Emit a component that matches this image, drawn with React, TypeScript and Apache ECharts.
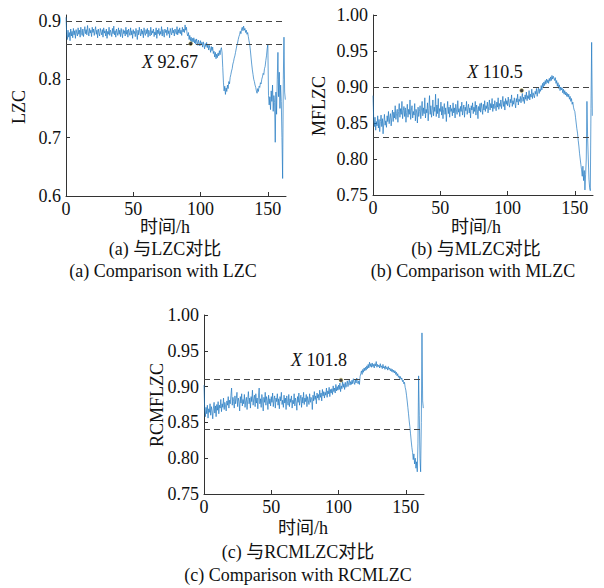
import React, { useEffect, useRef } from "react";
import * as echarts from "echarts";

// Time grid: one sample every half hour, starting at 0 h
const HOUR_STEP = 0.5;

// (a) LZC
const lzc = [
  0.906, 0.878, 0.868, 0.884, 0.872, 0.880, 0.866, 0.886, 0.874, 0.882,
  0.871, 0.887, 0.876, 0.883, 0.870, 0.885, 0.879, 0.874, 0.888, 0.877,
  0.884, 0.872, 0.889, 0.880, 0.875, 0.886, 0.873, 0.882, 0.890, 0.878,
  0.885, 0.876, 0.892, 0.881, 0.874, 0.887, 0.879, 0.884, 0.873, 0.889,
  0.880, 0.886, 0.875, 0.883, 0.890, 0.877, 0.884, 0.871, 0.886, 0.879,
  0.874, 0.887, 0.881, 0.876, 0.885, 0.872, 0.888, 0.879, 0.883, 0.874,
  0.886, 0.870, 0.882, 0.877, 0.889, 0.875, 0.884, 0.880, 0.873, 0.887,
  0.878, 0.891, 0.876, 0.883, 0.872, 0.886, 0.880, 0.875, 0.888, 0.877,
  0.884, 0.873, 0.887, 0.879, 0.871, 0.885, 0.878, 0.883, 0.874, 0.889,
  0.877, 0.884, 0.872, 0.886, 0.880, 0.875, 0.888, 0.876, 0.883, 0.870,
  0.885, 0.878, 0.882, 0.873, 0.887, 0.879, 0.868, 0.884, 0.876, 0.889,
  0.880, 0.874, 0.886, 0.877, 0.883, 0.871, 0.888, 0.879, 0.875, 0.885,
  0.878, 0.887, 0.872, 0.884, 0.880, 0.874, 0.889, 0.876, 0.883, 0.879,
  0.886, 0.873, 0.881, 0.876, 0.888, 0.870, 0.884, 0.878, 0.887, 0.875,
  0.882, 0.877, 0.890, 0.874, 0.885, 0.879, 0.872, 0.886, 0.880, 0.884,
  0.875, 0.889, 0.878, 0.883, 0.871, 0.887, 0.880, 0.876, 0.888, 0.879,
  0.884, 0.874, 0.886, 0.881, 0.877, 0.890, 0.876, 0.885, 0.879, 0.888,
  0.878, 0.884, 0.875, 0.889, 0.881, 0.886, 0.880, 0.893, 0.884, 0.889,
  0.878, 0.874, 0.880, 0.868, 0.875, 0.866, 0.872, 0.863, 0.870, 0.864,
  0.871, 0.862, 0.868, 0.860, 0.869, 0.864, 0.858, 0.867, 0.862, 0.857,
  0.866, 0.859, 0.863, 0.855, 0.864, 0.858, 0.852, 0.861, 0.856, 0.863,
  0.854, 0.860, 0.850, 0.858, 0.853, 0.846, 0.856, 0.849, 0.855, 0.844,
  0.848, 0.838, 0.846, 0.835, 0.843, 0.837, 0.845, 0.840, 0.849, 0.842,
  0.851, 0.854, 0.845, 0.820, 0.795, 0.780, 0.788, 0.774, 0.785, 0.779,
  0.790, 0.784, 0.796, 0.792, 0.803, 0.808, 0.814, 0.818, 0.826, 0.830,
  0.836, 0.840, 0.846, 0.852, 0.858, 0.862, 0.868, 0.873, 0.876, 0.882,
  0.878, 0.886, 0.889, 0.883, 0.891, 0.884, 0.887, 0.880, 0.884, 0.877,
  0.880, 0.873, 0.866, 0.860, 0.850, 0.838, 0.826, 0.816, 0.808, 0.800,
  0.796, 0.790, 0.786, 0.780, 0.776, 0.784, 0.779, 0.788, 0.786, 0.794,
  0.792, 0.800, 0.804, 0.810, 0.808, 0.818, 0.822, 0.832, 0.840, 0.852,
  0.860, 0.772, 0.756, 0.770, 0.748, 0.780, 0.762, 0.790, 0.745, 0.772,
  0.760, 0.692, 0.778, 0.740, 0.800, 0.846, 0.770, 0.812, 0.750, 0.790,
  0.762, 0.700, 0.630, 0.800, 0.872, 0.778, 0.765,
];

// (b) MFLZC
const mflzc = [
  0.888, 0.856, 0.845, 0.858, 0.840, 0.852, 0.846, 0.860, 0.843, 0.855,
  0.838, 0.852, 0.861, 0.845, 0.856, 0.835, 0.850, 0.862, 0.847, 0.853,
  0.844, 0.860, 0.852, 0.866, 0.849, 0.857, 0.863, 0.846, 0.858, 0.868,
  0.852, 0.865, 0.857, 0.874, 0.855, 0.863, 0.869, 0.851, 0.866, 0.877,
  0.858, 0.870, 0.862, 0.880, 0.856, 0.867, 0.873, 0.859, 0.871, 0.851,
  0.865, 0.876, 0.858, 0.869, 0.862, 0.882, 0.855, 0.868, 0.874, 0.857,
  0.866, 0.861, 0.877, 0.853, 0.869, 0.864, 0.850, 0.872, 0.859, 0.866,
  0.874, 0.856, 0.868, 0.880, 0.860, 0.871, 0.863, 0.885, 0.857, 0.869,
  0.864, 0.878, 0.853, 0.870, 0.888, 0.862, 0.874, 0.858, 0.867, 0.882,
  0.860, 0.872, 0.866, 0.890, 0.859, 0.875, 0.863, 0.884, 0.857, 0.870,
  0.866, 0.879, 0.861, 0.873, 0.856, 0.869, 0.877, 0.862, 0.871, 0.852,
  0.868, 0.880, 0.863, 0.872, 0.858, 0.875, 0.866, 0.870, 0.860, 0.878,
  0.864, 0.871, 0.857, 0.876, 0.868, 0.862, 0.881, 0.865, 0.870, 0.859,
  0.873, 0.866, 0.879, 0.861, 0.869, 0.875, 0.858, 0.872, 0.867, 0.880,
  0.862, 0.870, 0.876, 0.864, 0.871, 0.857, 0.874, 0.868, 0.878, 0.863,
  0.872, 0.866, 0.880, 0.861, 0.875, 0.869, 0.856, 0.873, 0.867, 0.877,
  0.865, 0.878, 0.870, 0.862, 0.876, 0.868, 0.881, 0.866, 0.874, 0.870,
  0.879, 0.864, 0.873, 0.882, 0.868, 0.877, 0.871, 0.884, 0.866, 0.876,
  0.870, 0.881, 0.874, 0.867, 0.879, 0.872, 0.885, 0.869, 0.877, 0.873,
  0.882, 0.870, 0.878, 0.887, 0.873, 0.880, 0.868, 0.884, 0.876, 0.881,
  0.874, 0.886, 0.877, 0.872, 0.883, 0.878, 0.889, 0.873, 0.881, 0.876,
  0.885, 0.878, 0.871, 0.884, 0.879, 0.890, 0.875, 0.883, 0.880, 0.887,
  0.878, 0.885, 0.891, 0.880, 0.886, 0.877, 0.889, 0.883, 0.893, 0.881,
  0.888, 0.884, 0.895, 0.882, 0.890, 0.886, 0.897, 0.884, 0.892, 0.888,
  0.885, 0.894, 0.890, 0.898, 0.887, 0.893, 0.900, 0.891, 0.897, 0.894,
  0.902, 0.896, 0.905, 0.899, 0.907, 0.902, 0.909, 0.904, 0.911, 0.906,
  0.910, 0.905, 0.912, 0.908, 0.914, 0.909, 0.916, 0.911, 0.915, 0.912,
  0.909, 0.913, 0.905, 0.909, 0.901, 0.906, 0.898, 0.903, 0.895, 0.900,
  0.896, 0.899, 0.892, 0.897, 0.890, 0.895, 0.889, 0.893, 0.887, 0.891,
  0.886, 0.890, 0.883, 0.887, 0.880, 0.884, 0.876, 0.879, 0.872, 0.868,
  0.866, 0.858, 0.850, 0.842, 0.836, 0.826, 0.818, 0.808, 0.800, 0.792,
  0.785, 0.776, 0.790, 0.770, 0.784, 0.757, 0.778, 0.800, 0.880, 0.830,
  0.800, 0.772, 0.760, 0.756, 0.870, 0.962, 0.860,
];

// (c) RCMFLZC
const rcmflzc = [
  0.902, 0.868, 0.858, 0.871, 0.862, 0.874, 0.856, 0.869, 0.864, 0.876,
  0.860, 0.872, 0.866, 0.855, 0.870, 0.878, 0.863, 0.873, 0.858, 0.875,
  0.867, 0.879, 0.862, 0.874, 0.870, 0.882, 0.865, 0.876, 0.871, 0.884,
  0.868, 0.878, 0.873, 0.866, 0.880, 0.874, 0.886, 0.870, 0.881, 0.876,
  0.888, 0.898, 0.874, 0.885, 0.879, 0.870, 0.887, 0.876, 0.883, 0.892,
  0.872, 0.884, 0.879, 0.866, 0.886, 0.877, 0.890, 0.873, 0.882, 0.876,
  0.889, 0.871, 0.880, 0.885, 0.868, 0.882, 0.893, 0.876, 0.884, 0.870,
  0.886, 0.879, 0.895, 0.874, 0.883, 0.888, 0.872, 0.890, 0.877, 0.884,
  0.869, 0.887, 0.898, 0.876, 0.883, 0.871, 0.889, 0.880, 0.866, 0.885,
  0.878, 0.892, 0.874, 0.886, 0.881, 0.868, 0.888, 0.876, 0.883, 0.873,
  0.886, 0.878, 0.891, 0.872, 0.882, 0.887, 0.870, 0.884, 0.879, 0.890,
  0.874, 0.883, 0.869, 0.886, 0.880, 0.892, 0.875, 0.881, 0.871, 0.888,
  0.877, 0.884, 0.868, 0.887, 0.879, 0.874, 0.889, 0.872, 0.883, 0.878,
  0.887, 0.870, 0.881, 0.876, 0.890, 0.873, 0.884, 0.879, 0.867, 0.886,
  0.878, 0.891, 0.874, 0.883, 0.888, 0.871, 0.885, 0.877, 0.892, 0.875,
  0.884, 0.879, 0.889, 0.872, 0.886, 0.881, 0.875, 0.890, 0.878, 0.885,
  0.883, 0.868, 0.888, 0.880, 0.893, 0.882, 0.887, 0.876, 0.891, 0.884,
  0.889, 0.881, 0.895, 0.885, 0.891, 0.880, 0.896, 0.887, 0.893, 0.884,
  0.892, 0.888, 0.898, 0.885, 0.894, 0.890, 0.899, 0.886, 0.896, 0.891,
  0.897, 0.889, 0.901, 0.893, 0.898, 0.891, 0.903, 0.894, 0.900, 0.895,
  0.902, 0.896, 0.905, 0.893, 0.901, 0.897, 0.907, 0.899, 0.904, 0.896,
  0.906, 0.899, 0.903, 0.908, 0.900, 0.905, 0.910, 0.902, 0.907, 0.903,
  0.909, 0.904, 0.911, 0.906, 0.903, 0.910, 0.905, 0.912, 0.907, 0.904,
  0.908, 0.903, 0.914, 0.918, 0.922, 0.917, 0.924, 0.920, 0.926, 0.922,
  0.927, 0.923, 0.929, 0.925, 0.931, 0.926, 0.934, 0.928, 0.932, 0.927,
  0.933, 0.928, 0.931, 0.926, 0.932, 0.929, 0.935, 0.927, 0.931, 0.928,
  0.930, 0.926, 0.932, 0.927, 0.929, 0.925, 0.931, 0.926, 0.928, 0.924,
  0.929, 0.925, 0.927, 0.923, 0.928, 0.924, 0.926, 0.922, 0.925, 0.921,
  0.924, 0.920, 0.923, 0.919, 0.922, 0.917, 0.920, 0.915, 0.918, 0.913,
  0.915, 0.911, 0.914, 0.910, 0.912, 0.907, 0.909, 0.904, 0.906, 0.899,
  0.895, 0.888, 0.880, 0.871, 0.862, 0.852, 0.844, 0.834, 0.824, 0.815,
  0.808, 0.798, 0.806, 0.792, 0.800, 0.786, 0.795, 0.781, 0.820, 0.915,
  0.860, 0.800, 0.781, 0.850, 0.975, 0.880, 0.870,
];

// Threshold (dashed) lines: [upper, lower]
const thresholdsA = [0.899, 0.861];
const thresholdsB = [0.895, 0.829];
const thresholdsC = [0.909, 0.844];

// Marked points (data tips)
const markA = [92.67, 0.861];
const markB = [110.5, 0.895];
const markC = [101.8, 0.909];

// Tick labels
const xTicks = [0, 50, 100, 150];
const yTicksA = [0.6, 0.7, 0.8, 0.9];
const yTicksBC = [0.75, 0.8, 0.85, 0.9, 0.95, 1.0];

const X_MAX = 163.5;
const FONT = '"Liberation Serif", "Times New Roman", "Noto Sans CJK SC", serif';
const LINE_COLOR = "#1f78c1";
const AXIS_COLOR = "#333";

export default function App() {
  const ref = useRef<HTMLDivElement>(null);

  useEffect(() => {
    if (!ref.current) return;
    const chart = echarts.init(ref.current, undefined, { renderer: "svg" });

    const toPairs = (arr: number[]) => arr.map((v, i) => [i * HOUR_STEP, v]);

    const axisCommon = {
      type: "value" as const,
      axisLine: { show: true, lineStyle: { color: AXIS_COLOR, width: 1 } },
      axisTick: { show: true, inside: true, length: 4, lineStyle: { color: AXIS_COLOR } },
      splitLine: { show: false },
    };

    const xAxisFor = (gi: number) => ({
      ...axisCommon,
      gridIndex: gi,
      min: 0,
      max: X_MAX,
      axisTick: { ...axisCommon.axisTick, customValues: xTicks },
      axisLabel: {
        customValues: xTicks,
        color: "#111",
        fontSize: 18,
        fontFamily: FONT,
        margin: 4,
      },
    });

    const yAxisFor = (gi: number, min: number, max: number, ticks: number[], dec: number) => ({
      ...axisCommon,
      gridIndex: gi,
      min,
      max,
      axisTick: { ...axisCommon.axisTick, customValues: ticks },
      axisLabel: {
        customValues: ticks,
        color: "#111",
        fontSize: 18,
        fontFamily: FONT,
        margin: 5,
        formatter: (v: number) => v.toFixed(dec),
      },
    });

    const lineSeries = (gi: number, data: number[], th: number[]) => ({
      type: "line" as const,
      xAxisIndex: gi,
      yAxisIndex: gi,
      data: toPairs(data),
      showSymbol: false,
      symbol: "none",
      lineStyle: { color: LINE_COLOR, width: 0.7 },
      markLine: {
        silent: true,
        symbol: ["none", "none"],
        label: { show: false },
        lineStyle: { color: "#444", width: 1, type: [6, 4] },
        data: th.map((t) => ({ yAxis: t })),
      },
      z: 2,
    });

    const markSeries = (gi: number, p: number[]) => ({
      type: "scatter" as const,
      xAxisIndex: gi,
      yAxisIndex: gi,
      data: [p],
      symbolSize: 4,
      itemStyle: { color: "#111", borderColor: "#e8d870", borderWidth: 0.6 },
      z: 5,
    });

    const txt = (x: number, y: number, text: string, rot = 0) => ({
      type: "text" as const,
      x,
      y,
      rotation: rot,
      style: {
        text,
        fontSize: 18,
        fontFamily: FONT,
        fill: "#111",
        align: "center",
        verticalAlign: "middle",
      },
    });

    const tip = (x: number, y: number, val: string) => ({
      type: "text" as const,
      x,
      y,
      style: {
        text: `{i|X} ${val}`,
        fontSize: 18,
        fontFamily: FONT,
        fill: "#111",
        align: "center",
        verticalAlign: "middle",
        rich: {
          i: { fontStyle: "italic", fontSize: 18, fontFamily: FONT, fill: "#111" },
        },
      },
    });

    chart.setOption({
      animation: false,
      backgroundColor: "#fff",
      grid: [
        { left: 66, top: 15, width: 220, height: 181, outerBoundsMode: "none" },
        { left: 373, top: 15, width: 220, height: 180, outerBoundsMode: "none" },
        { left: 204, top: 315, width: 220, height: 179, outerBoundsMode: "none" },
      ],
      xAxis: [xAxisFor(0), xAxisFor(1), xAxisFor(2)],
      yAxis: [
        yAxisFor(0, 0.6, 0.91, yTicksA, 1),
        yAxisFor(1, 0.75, 1.0, yTicksBC, 2),
        yAxisFor(2, 0.75, 1.0, yTicksBC, 2),
      ],
      series: [
        lineSeries(0, lzc, thresholdsA),
        lineSeries(1, mflzc, thresholdsB),
        lineSeries(2, rcmflzc, thresholdsC),
        markSeries(0, markA),
        markSeries(1, markB),
        markSeries(2, markC),
      ],
      graphic: [
        txt(19, 107, "LZC", Math.PI / 2),
        txt(319, 106, "MFLZC", Math.PI / 2),
        txt(157, 405, "RCMFLZC", Math.PI / 2),
        txt(165, 227, "时间/h"),
        txt(476, 227, "时间/h"),
        txt(303, 528, "时间/h"),
        txt(165, 249, "(a) 与LZC对比"),
        txt(163, 271, "(a) Comparison with LZC"),
        txt(476, 249, "(b) 与MLZC对比"),
        txt(473, 271, "(b) Comparison with MLZC"),
        txt(298, 552, "(c) 与RCMLZC对比"),
        txt(298, 575, "(c) Comparison with RCMLZC"),
        tip(170, 62, String(markA[0])),
        tip(495, 72, String(markB[0])),
        tip(319, 360, String(markC[0])),
      ],
    });

    return () => chart.dispose();
  }, []);

  return (
    <div
      ref={ref}
      style={{ position: "fixed", left: 0, top: 0, width: 604, height: 588 }}
    />
  );
}
